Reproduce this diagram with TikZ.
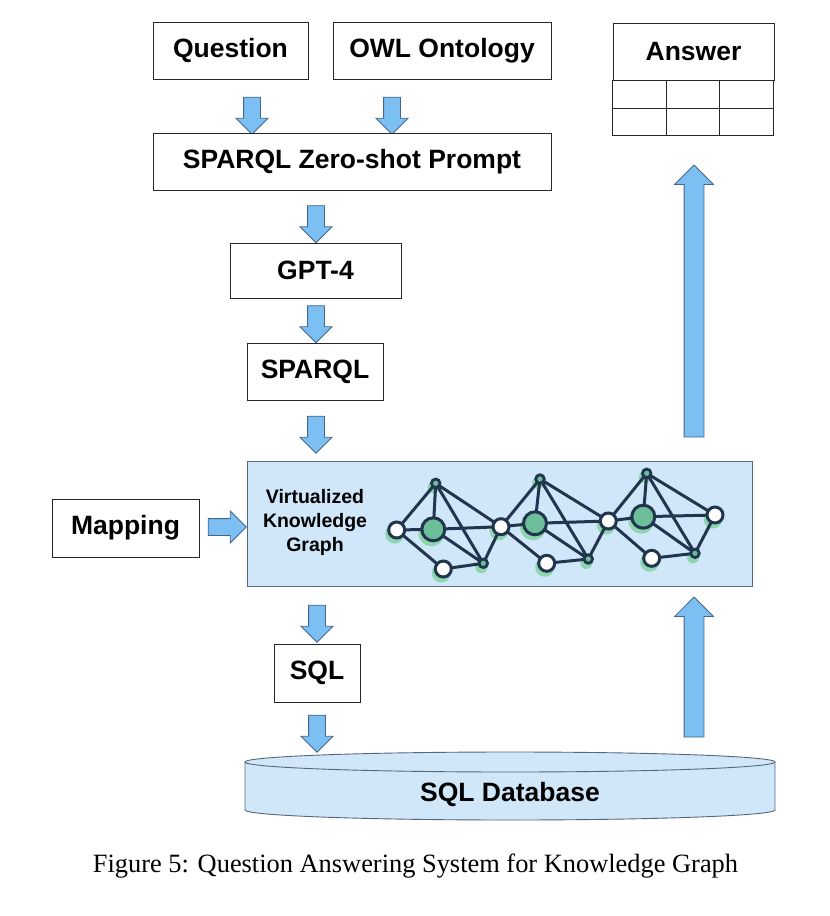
\documentclass[tikz,border=0pt]{standalone}
\usepackage{fontspec}
\setmainfont{Liberation Serif}
\newfontfamily\boxfont{Liberation Sans}
\usetikzlibrary{shapes.arrows}
\definecolor{boxblue}{HTML}{CFE7F9}
\definecolor{boxedge}{HTML}{56677A}
\definecolor{arrowblue}{HTML}{7CC0F3}
\definecolor{arrowedge}{HTML}{44658E}
\definecolor{netnavy}{HTML}{22354F}
\definecolor{netgreen}{HTML}{6DBF9A}
\definecolor{netshade}{HTML}{8ED5B0}

\begin{document}
\begin{tikzpicture}[x=1pt,y=-1pt,
    box/.style={draw=black!85,line width=0.9pt,fill=white,inner sep=0pt,minimum height=57pt,
        font=\boxfont\bfseries\fontsize{26.5}{30}\selectfont},
    flow/.style={single arrow,draw=arrowedge,fill=arrowblue,line width=0.8pt,inner xsep=0pt,
        inner ysep=8pt,single arrow head extend=7.5pt,minimum height=37pt},
    bigflow/.style={flow,inner ysep=9.5pt,single arrow head extend=9.5pt},
    netedge/.style={draw=netnavy,line width=3pt,line join=round},
    wnode/.style={circle,draw=netnavy,line width=3pt,fill=white,minimum size=16pt,inner sep=0pt},
    gnode/.style={circle,draw=netnavy,line width=3pt,fill=netgreen,minimum size=23pt,inner sep=0pt},
    snode/.style={circle,draw=netnavy,line width=2.8pt,fill=netgreen,minimum size=8.5pt,inner sep=0pt}]
    \useasboundingbox (0,0) rectangle (830,916);

    % inputs and prompt
    \node[box,minimum width=155pt] (question) at (230.5,50.5) {Question};
    \node[box,minimum width=218pt] (owl) at (442,50.5) {OWL Ontology};
    \node[flow,rotate=-90] (qarrow) at (252,111.5) {};
    \node[flow,rotate=-90] (owlarrow) at (392,111.5) {};
    \node[box,minimum width=398pt] (prompt) at (352,161.5) {SPARQL Zero-shot Prompt};
    \node[flow,rotate=-90] (promptarrow) at (316,220) {};
    \node[box,minimum width=171pt,minimum height=55pt] (gpt) at (315.5,270.5) {GPT-4};
    \node[flow,rotate=-90] (gptarrow) at (316,320) {};
    \node[box,minimum width=136pt] (sparql) at (315,371.5) {SPARQL};
    \node[flow,rotate=-90] (sparqlarrow) at (316,430.5) {};

    % virtualized knowledge graph
    \node[box,draw=boxedge,fill=boxblue,minimum width=505pt,minimum height=125pt] (vkg) at (499.5,523.5) {};
    \node[font=\boxfont\bfseries\fontsize{19.5}{24}\selectfont,align=center] (vkglabel) at (315,522)
        {Virtualized\\Knowledge\\Graph};
    \node[box,minimum width=147pt,minimum height=58pt] (mapping) at (125.5,528) {Mapping};
    \node[flow,minimum height=38pt] (maparrow) at (223,527) {};

    \foreach \n/\x/\y in {w0/396.7/530,t1/435.7/483.3,g1/433.3/529.3,b1/443.3/569,s1/483.3/563.3,
        w1/501/526.7,t2/540/479,g2/535/523.3,b2/546.7/563.3,s2/588.3/559,
        w2/608.3/521,t3/646.7/473.3,g3/643.3/516.7,b3/651.7/558.3,s3/695/553.3,w3/715/515}
        \coordinate (\n) at (\x,\y);
    \foreach \n/\r in {w0/9.5,w1/9.5,w2/9.5,w3/9.5,b1/9.5,b2/9.5,b3/9.5,g1/13,g2/13,g3/13,t1/6,t2/6,t3/6,s1/6,s2/6,s3/6}
        \fill[netshade] ([shift={(-2,4)}]\n) circle (\r);
    \foreach \l/\t/\g/\b/\s/\r in {w0/t1/g1/b1/s1/w1,w1/t2/g2/b2/s2/w2,w2/t3/g3/b3/s3/w3}
        \draw[netedge] (\l) -- (\t) -- (\r) -- (\s) -- (\t) -- (\g) -- (\l) -- (\b) -- (\s) -- (\g) -- (\r);
    \foreach \n in {w0,w1,w2,w3,b1,b2,b3}
        \node[wnode] (\n dot) at (\n) {};
    \foreach \n in {g1,g2,g3}
        \node[gnode] (\n dot) at (\n) {};
    \foreach \n in {t1,t2,t3,s1,s2,s3}
        \node[snode] (\n dot) at (\n) {};

    % sql side
    \node[flow,rotate=-90] (vkgarrow) at (317,619.5) {};
    \node[box,minimum width=86pt,minimum height=58pt] (sql) at (317,673) {SQL};
    \node[flow,rotate=-90] (sqlarrow) at (317,729.5) {};
    \fill[boxblue] (245,762) -- (245,810) arc[start angle=180,end angle=0,x radius=265,y radius=10] -- (775,762) -- cycle;
    \draw[boxedge,line width=0.9pt] (245,762) -- (245,810) arc[start angle=180,end angle=0,x radius=265,y radius=10] -- (775,762);
    \draw[boxedge,line width=0.9pt,fill=boxblue] (510,762) ellipse [x radius=265,y radius=10];
    \node[font=\boxfont\bfseries\fontsize{26.5}{30}\selectfont] (db) at (510,794) {SQL Database};

    % answer
    \node[bigflow,rotate=90,minimum height=140pt] (dbarrow) at (694,672) {};
    \node[bigflow,rotate=90,minimum height=272pt] (ansarrow) at (694,306) {};
    \node[box,minimum width=161pt] (answer) at (693.5,51.5) {Answer};
    \draw[black!85,line width=0.9pt] (answer.south west) rectangle ++(161,55);
    \draw[black!85,line width=0.9pt] ([yshift=-27.5pt]answer.south west) -- ++(161,0);
    \draw[black!85,line width=0.9pt] ([xshift=54pt]answer.south west) -- ++(0,55);
    \draw[black!85,line width=0.9pt] ([xshift=107pt]answer.south west) -- ++(0,55);

    \node[font=\fontsize{26.4}{30}\selectfont] (caption) at (415.5,866)
        {Figure 5: Question Answering System for Knowledge Graph};
\end{tikzpicture}
\end{document}
